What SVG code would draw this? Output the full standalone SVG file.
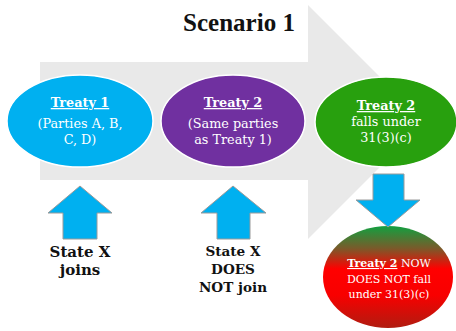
<svg xmlns="http://www.w3.org/2000/svg" width="456" height="331" viewBox="0 0 456 331">
<defs>
<linearGradient id="rg" x1="0" y1="0" x2="0" y2="1">
<stop offset="0" stop-color="#12a040"/>
<stop offset="0.22" stop-color="#7a5a2a"/>
<stop offset="0.42" stop-color="#ff0000"/>
<stop offset="0.68" stop-color="#f80000"/>
<stop offset="1" stop-color="#b01c10"/>
</linearGradient>
</defs>
<style>
text{font-family:"DejaVu Serif","Liberation Serif",serif;text-anchor:middle}
.w{fill:#ffffff;font-size:12.8px}
.u{font-weight:bold;text-decoration:underline}
.b{fill:#111111;font-weight:bold}
.t{font-family:"Liberation Serif","DejaVu Serif",serif;font-size:25px}
.s{font-size:11px}
.arr{fill:#00b0f0;stroke:#9a9a9a;stroke-width:1}
.el{stroke:#ffffff;stroke-width:1.5}
</style>
<rect width="456" height="331" fill="#ffffff"/>
<g id="bigArrow">
<polygon points="40,62 308,62 308,5 425,122 308,239 308,180 40,180" fill="#e9e9e9"/>
</g>
<text x="239" y="31" class="b t">Scenario 1</text>
<g id="treaty1">
<ellipse cx="80" cy="121" rx="73" ry="46" fill="#00b0f0" class="el"/>
<text class="w" x="80" y="107"><tspan class="u">Treaty 1</tspan></text>
<text class="w" x="80" y="128">(Parties A, B,</text>
<text class="w" x="80" y="144">C, D)</text>
</g>
<g id="treaty2">
<ellipse cx="233" cy="121" rx="72" ry="46" fill="#7030a0" class="el"/>
<text class="w" x="233" y="107"><tspan class="u">Treaty 2</tspan></text>
<text class="w" x="233" y="128">(Same parties</text>
<text class="w" x="233" y="144">as Treaty 1)</text>
</g>
<g id="treaty2falls">
<ellipse cx="386" cy="122" rx="71" ry="45" fill="#28a00e" class="el"/>
<text class="w" x="386" y="110"><tspan class="u">Treaty 2</tspan></text>
<text class="w" x="386" y="126">falls under</text>
<text class="w" x="386" y="142">31(3)(c)</text>
</g>
<g id="treaty2not">
<ellipse cx="388" cy="277" rx="65" ry="51" fill="url(#rg)"/>
<text class="w s" x="389" y="267"><tspan class="u">Treaty 2</tspan> NOW</text>
<text class="w s" x="389" y="283">DOES NOT fall</text>
<text class="w s" x="389" y="298">under 31(3)(c)</text>
</g>
<g id="stateXjoins">
<text class="b" x="80" y="257" style="font-size:15px">State X</text>
<text class="b" x="80" y="275" style="font-size:15px">joins</text>
</g>
<g id="stateXnot">
<text class="b" x="233" y="256" style="font-size:13.6px">State X</text>
<text class="b" x="233" y="274" style="font-size:13.6px">DOES</text>
<text class="b" x="233" y="292" style="font-size:13.6px">NOT join</text>
</g>
<g id="connectors">
<polygon class="arr" points="80,186 112,213 97,213 97,239 63,239 63,213 48,213"/>
<polygon class="arr" points="233,186 266,213 250,213 250,239 217,239 217,213 201,213"/>
<polygon class="arr" points="373,174 404,174 404,200 420,200 388,227 356,200 373,200"/>
</g>
</svg>
